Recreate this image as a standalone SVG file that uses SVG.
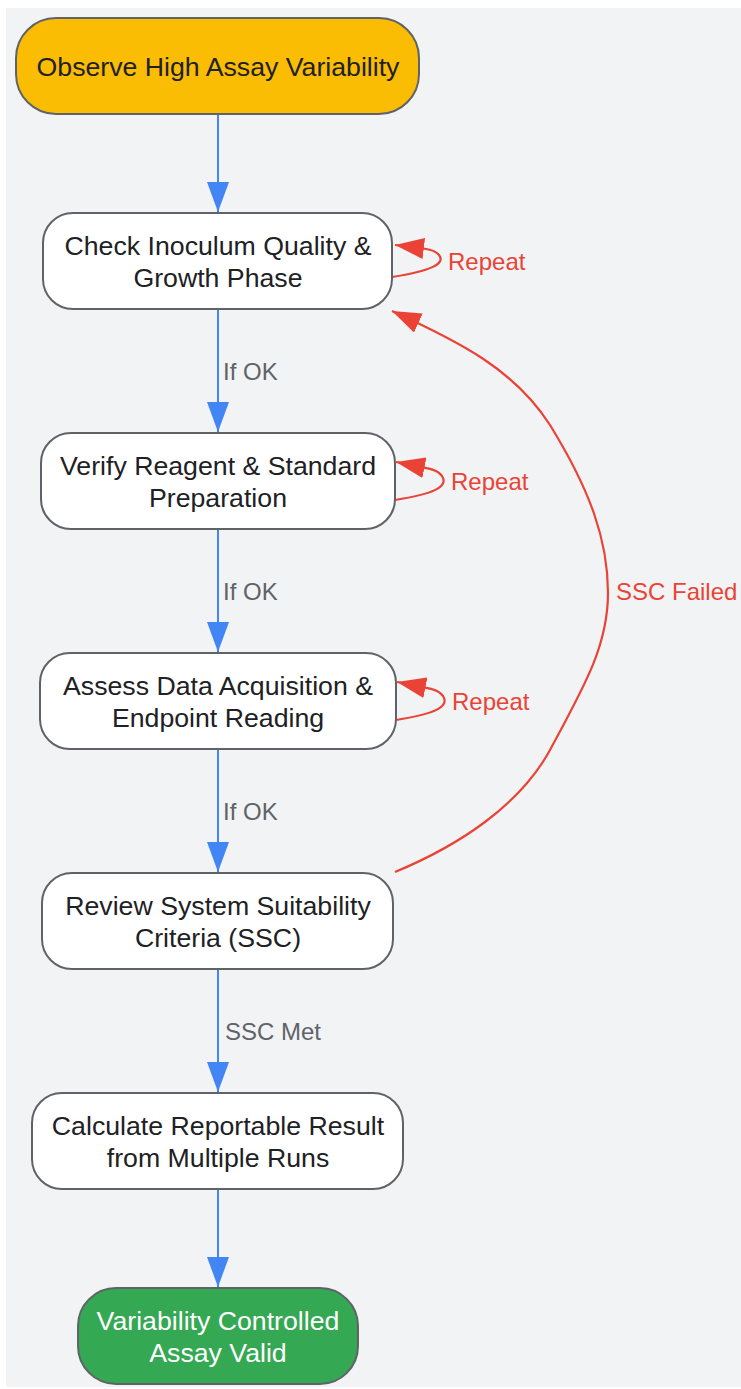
<svg xmlns="http://www.w3.org/2000/svg" width="741" height="1389" viewBox="0 0 741 1389">
<style>
.node rect{stroke:#5f6368;stroke-width:2}
.proc rect{fill:#ffffff}
.nt{font-family:"Liberation Sans",Arial,sans-serif;font-size:26.7px;fill:#202124;text-anchor:middle}
.wt{fill:#ffffff}
.flow{fill:none;stroke:#4285F4;stroke-width:2}
.back{fill:none;stroke:#EA4335;stroke-width:2.2}
.el{font-family:"Liberation Sans",Arial,sans-serif;font-size:24px;fill:#5f6368}
.rl{font-family:"Liberation Sans",Arial,sans-serif;font-size:24px;fill:#EA4335}
</style>
<defs>
<marker id="ab" markerUnits="userSpaceOnUse" markerWidth="30" markerHeight="22" refX="30" refY="11" orient="auto" viewBox="0 0 30 22">
<path d="M0,0 L30,11 L0,22 z" fill="#4285F4"/>
</marker>
<marker id="ar" markerUnits="userSpaceOnUse" markerWidth="29" markerHeight="21" refX="29" refY="10.5" orient="auto" viewBox="0 0 29 21">
<path d="M0,0 L29,10.5 L0,21 z" fill="#EA4335"/>
</marker>
</defs>
<rect x="6" y="8" width="735" height="1379" fill="#F1F3F5"/>
<g id="connectors">
<path class="flow" d="M218,114 L218,212" marker-end="url(#ab)"/>
<path class="flow" d="M218,309 L218,432" marker-end="url(#ab)"/>
<path class="flow" d="M218,529 L218,652" marker-end="url(#ab)"/>
<path class="flow" d="M218,749 L218,872" marker-end="url(#ab)"/>
<path class="flow" d="M218,969 L218,1092" marker-end="url(#ab)"/>
<path class="flow" d="M218,1189 L218,1287" marker-end="url(#ab)"/>
<text class="el" x="223" y="380">If OK</text>
<text class="el" x="223" y="600">If OK</text>
<text class="el" x="223" y="820">If OK</text>
<text class="el" x="225" y="1040">SSC Met</text>
<path class="back" d="M392,277 C430,271 446,264 439,255 C434,249 428,249 395,245" marker-end="url(#ar)"/>
<path class="back" d="M395,500 C433,494 449,487 442,476 C437,469 431,469 396,462" marker-end="url(#ar)"/>
<path class="back" d="M396,720 C434,714 450,707 443,696 C438,689 432,689 397,682" marker-end="url(#ar)"/>
<text class="rl" x="448" y="270">Repeat</text>
<text class="rl" x="451" y="490">Repeat</text>
<text class="rl" x="452" y="710">Repeat</text>
<path class="back" d="M395,872 C460,845 520,805 550,750 C585,685 608,645 608,593 C608,540 590,490 550,425 C515,370 460,342 392,311" marker-end="url(#ar)"/>
<text class="rl" x="616" y="600">SSC Failed</text>
</g>
<g id="n1" class="node">
<rect x="16" y="18" width="403" height="96" rx="40" fill="#FBBC04"/>
<text class="nt" x="218" y="76">Observe High Assay Variability</text>
</g>
<g id="n2" class="node proc">
<rect x="43" y="213" width="349" height="96" rx="30"/>
<text class="nt" x="218" y="255">Check Inoculum Quality &amp;</text>
<text class="nt" x="218" y="287">Growth Phase</text>
</g>
<g id="n3" class="node proc">
<rect x="41" y="433" width="354" height="96" rx="30"/>
<text class="nt" x="218" y="475">Verify Reagent &amp; Standard</text>
<text class="nt" x="218" y="507">Preparation</text>
</g>
<g id="n4" class="node proc">
<rect x="40" y="653" width="356" height="96" rx="30"/>
<text class="nt" x="218" y="695">Assess Data Acquisition &amp;</text>
<text class="nt" x="218" y="727">Endpoint Reading</text>
</g>
<g id="n5" class="node proc">
<rect x="42" y="873" width="351" height="96" rx="30"/>
<text class="nt" x="218" y="915">Review System Suitability</text>
<text class="nt" x="218" y="947">Criteria (SSC)</text>
</g>
<g id="n6" class="node proc">
<rect x="32" y="1093" width="371" height="96" rx="30"/>
<text class="nt" x="218" y="1135">Calculate Reportable Result</text>
<text class="nt" x="218" y="1167">from Multiple Runs</text>
</g>
<g id="n7" class="node">
<rect x="78" y="1288" width="280" height="96" rx="38" fill="#34A853"/>
<text class="nt wt" x="218" y="1330">Variability Controlled</text>
<text class="nt wt" x="218" y="1362">Assay Valid</text>
</g>
</svg>
